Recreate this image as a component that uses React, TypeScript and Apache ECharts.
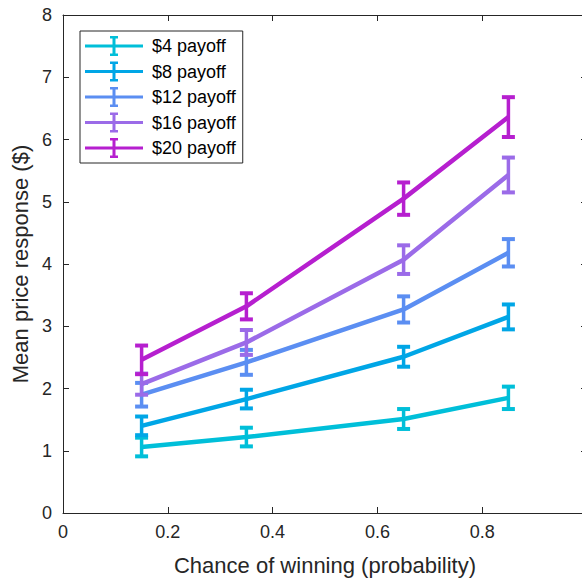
import React, { useEffect, useRef } from "react";
import * as echarts from "echarts";

const xValues = [0.15, 0.35, 0.65, 0.85];
const seriesNames = ["$4 payoff", "$8 payoff", "$12 payoff", "$16 payoff", "$20 payoff"];
const seriesColors = ["#00bfd9", "#00a6e6", "#5b8ef2", "#9b6be8", "#b61fcf"];
const means4 = [1.06, 1.22, 1.51, 1.85];
const means8 = [1.4, 1.83, 2.51, 3.15];
const means12 = [1.9, 2.42, 3.27, 4.18];
const means16 = [2.07, 2.74, 4.07, 5.43];
const means20 = [2.46, 3.32, 5.05, 6.36];
const err4 = [0.15, 0.15, 0.16, 0.18];
const err8 = [0.15, 0.15, 0.16, 0.2];
const err12 = [0.19, 0.2, 0.21, 0.22];
const err16 = [0.17, 0.2, 0.23, 0.28];
const err20 = [0.23, 0.21, 0.26, 0.32];
const allMeans = [means4, means8, means12, means16, means20];
const allErrs = [err4, err8, err12, err16, err20];
const xTicks = { min: 0, max: 1, interval: 0.2 };
const yTicks = { min: 0, max: 8, interval: 1 };

const FONT = "'Liberation Sans', Arial, Helvetica, sans-serif";
const TEXT = "#262626";
const legendIcon =
  "path://M0,8.5 L58,8.5 L58,11.5 L0,11.5 Z M25,0 L33,0 L33,2.5 L30.5,2.5 L30.5,17.5 L33,17.5 L33,20 L25,20 L25,17.5 L27.5,17.5 L27.5,2.5 L25,2.5 Z";

export default function App() {
  const ref = useRef<HTMLDivElement>(null);
  useEffect(() => {
    if (!ref.current) return;
    const chart = echarts.init(ref.current, undefined, { renderer: "svg" });
    const series: any[] = [];
    seriesNames.forEach((name, i) => {
      const color = seriesColors[i];
      series.push({
        name,
        type: "line",
        symbol: "none",
        data: xValues.map((x, j) => [x, allMeans[i][j]]),
        lineStyle: { color, width: 4.5 },
        itemStyle: { color },
        z: 10 + i * 2,
        xAxisIndex: 0,
        yAxisIndex: 0,
      });
      series.push({
        name,
        type: "custom",
        data: xValues.map((x, j) => [x, allMeans[i][j], allErrs[i][j]]),
        encode: { x: 0, y: 1 },
        itemStyle: { color },
        z: 11 + i * 2,
        xAxisIndex: 0,
        yAxisIndex: 0,
        renderItem: (params: any, api: any) => {
          const x = api.value(0);
          const y = api.value(1);
          const e = api.value(2);
          const top = api.coord([x, y + e]);
          const bot = api.coord([x, y - e]);
          const hw = 6.5;
          const style = { stroke: color, lineWidth: 4, lineCap: "butt" };
          return {
            type: "group",
            children: [
              { type: "line", shape: { x1: top[0], y1: top[1], x2: bot[0], y2: bot[1] }, style: { ...style, lineWidth: 3.5 } },
              { type: "line", shape: { x1: top[0] - hw, y1: top[1], x2: top[0] + hw, y2: top[1] }, style },
              { type: "line", shape: { x1: bot[0] - hw, y1: bot[1], x2: bot[0] + hw, y2: bot[1] }, style },
            ],
          };
        },
      });
    });

    const axisCommon = {
      axisLine: { show: true, onZero: false, lineStyle: { color: TEXT, width: 1 } },
      axisTick: { show: true, inside: true, length: 6, lineStyle: { color: TEXT, width: 1 } },
      splitLine: { show: false },
    };

    chart.setOption({
      animation: false,
      backgroundColor: "#ffffff",
      grid: { left: 63, right: 13, top: 15, bottom: 67, containLabel: false },
      legend: {
        orient: "vertical",
        left: 80,
        top: 31,
        padding: [5, 7, 5, 5],
        itemGap: 5.5,
        itemWidth: 58,
        itemHeight: 20,
        borderColor: TEXT,
        borderWidth: 1,
        backgroundColor: "#ffffff",
        data: seriesNames.map((n, i) => ({ name: n, icon: legendIcon, itemStyle: { color: seriesColors[i] } })),
        textStyle: { fontFamily: FONT, fontSize: 18, color: "#000000", lineHeight: 20, padding: [0, 0, 0, 4] },
        selectedMode: false,
        z: 50,
      },
      xAxis: [
        {
          type: "value",
          ...xTicks,
          position: "bottom",
          name: "Chance of winning (probability)",
          nameLocation: "middle",
          nameGap: 41,
          nameTextStyle: { fontFamily: FONT, fontSize: 22, color: TEXT },
          axisLabel: { fontFamily: FONT, fontSize: 18, color: TEXT, margin: 10 },
          ...axisCommon,
        },
        {
          type: "value",
          ...xTicks,
          position: "top",
          axisLabel: { show: false },
          ...axisCommon,
        },
      ],
      yAxis: [
        {
          type: "value",
          ...yTicks,
          position: "left",
          name: "Mean price response ($)",
          nameLocation: "middle",
          nameGap: 28,
          nameTextStyle: { fontFamily: FONT, fontSize: 22, color: TEXT },
          axisLabel: { fontFamily: FONT, fontSize: 18, color: TEXT, margin: 11 },
          ...axisCommon,
        },
        {
          type: "value",
          ...yTicks,
          position: "right",
          axisLabel: { show: false },
          ...axisCommon,
        },
      ],
      series,
    });
    return () => chart.dispose();
  }, []);

  return (
    <div style={{ position: "fixed", left: 0, top: 0, width: 582, height: 581, overflow: "hidden", background: "#fff" }}>
      <div ref={ref} style={{ width: 600, height: 581 }} />
    </div>
  );
}
